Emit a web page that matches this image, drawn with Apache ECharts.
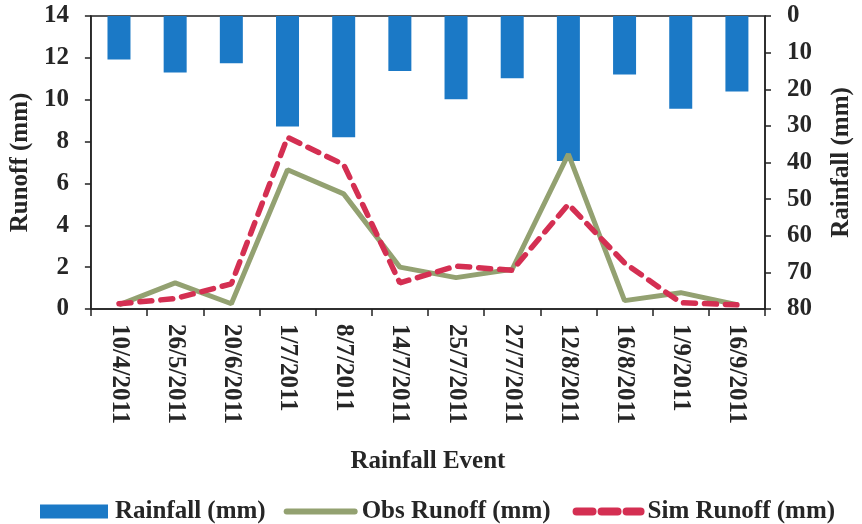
<!DOCTYPE html>
<html>
<head>
<meta charset="utf-8">
<script src="https://cdn.jsdelivr.net/npm/echarts@6/dist/echarts.min.js"></script>
<style>html,body{margin:0;padding:0;background:#fff;}#c{width:862px;height:524px;}</style>
</head>
<body>
<div id="c"></div>
<script>
var categories = ['10/4/2011','26/5/2011','20/6/2011','1/7/2011','8/7/2011','14/7/2011','25/7/2011','27/7/2011','12/8/2011','16/8/2011','1/9/2011','16/9/2011'];
var rainfall = [11.9, 15.4, 12.9, 30.2, 33.1, 15.0, 22.7, 17.0, 39.6, 16.0, 25.3, 20.6];
var obsRunoff = [0.2, 1.25, 0.25, 6.65, 5.5, 2.0, 1.5, 1.9, 7.4, 0.4, 0.78, 0.2];
var simRunoff = [0.25, 0.5, 1.2, 8.2, 6.9, 1.25, 2.05, 1.85, 5.0, 2.2, 0.3, 0.2];
var leftTicks = {min: 0, max: 14, interval: 2};
var rightTicks = {min: 0, max: 80, interval: 10};

var FONT = "'Liberation Serif', 'Times New Roman', serif";
var TXT = '#262626';
var OBS = '#93a171';
var SIM = '#d42f52';
var chart = echarts.init(document.getElementById('c'), null, {renderer: 'canvas'});
chart.setOption({
  animation: false,
  backgroundColor: '#fff',
  textStyle: {fontFamily: FONT, fontWeight: 'bold', color: TXT},
  grid: {left: 90, right: 88, top: 16, bottom: 215, show: true, borderColor: '#222', borderWidth: 1.5, backgroundColor: 'transparent'},
  legend: {
    left: 35, top: 494, itemWidth: 68, itemHeight: 14, itemGap: 18,
    textStyle: {fontFamily: FONT, fontWeight: 'bold', fontSize: 25, color: TXT, padding: [0,0,0,2]},
    data: [
      {name: 'Rainfall (mm)', icon: 'rect'},
      {name: 'Obs Runoff (mm)', itemStyle: {color: 'rgba(0,0,0,0)', borderColor: 'rgba(0,0,0,0)', borderWidth: 0},
        lineStyle: {color: OBS, width: 6, cap: 'round'}},
      {name: 'Sim Runoff (mm)', itemStyle: {color: 'rgba(0,0,0,0)', borderColor: 'rgba(0,0,0,0)', borderWidth: 0},
        lineStyle: {color: SIM, width: 8, type: [16, 9], dashOffset: -4, cap: 'round'}}
    ]
  },
  xAxis: {
    type: 'category', data: categories, boundaryGap: true,
    name: 'Rainfall Event', nameLocation: 'middle', nameGap: 140,
    nameTextStyle: {fontFamily: FONT, fontWeight: 'bold', fontSize: 25, color: TXT},
    axisLine: {lineStyle: {color: '#222', width: 1.5}},
    axisTick: {show: true, length: 7, lineStyle: {color: '#222', width: 1.5}},
    axisLabel: {rotate: -90, interval: 0, margin: 15, fontFamily: FONT, fontWeight: 'bold', fontSize: 25, color: TXT}
  },
  yAxis: [
    {
      type: 'value', position: 'left', min: leftTicks.min, max: leftTicks.max, interval: leftTicks.interval,
      name: 'Runoff (mm)', nameLocation: 'middle', nameGap: 55, nameRotate: 90,
      nameTextStyle: {fontFamily: FONT, fontWeight: 'bold', fontSize: 25, color: TXT},
      axisLine: {show: true, lineStyle: {color: '#222', width: 1.5}},
      axisTick: {show: true, length: 6, lineStyle: {color: '#222', width: 1.5}},
      axisLabel: {margin: 22, fontFamily: FONT, fontWeight: 'bold', fontSize: 25, color: TXT},
      splitLine: {show: false}
    },
    {
      type: 'value', position: 'right', inverse: true, min: rightTicks.min, max: rightTicks.max, interval: rightTicks.interval,
      name: 'Rainfall (mm)', nameLocation: 'middle', nameGap: 64, nameRotate: 90,
      nameTextStyle: {fontFamily: FONT, fontWeight: 'bold', fontSize: 25, color: TXT},
      axisLine: {show: true, lineStyle: {color: '#222', width: 1.5}},
      axisTick: {show: true, length: 6, lineStyle: {color: '#222', width: 1.5}},
      axisLabel: {margin: 22, fontFamily: FONT, fontWeight: 'bold', fontSize: 25, color: TXT},
      splitLine: {show: false}
    }
  ],
  series: [
    {
      name: 'Rainfall (mm)', type: 'bar', yAxisIndex: 1, data: rainfall, barWidth: 23,
      itemStyle: {color: '#1b79c6'}
    },
    {
      name: 'Obs Runoff (mm)', type: 'line', yAxisIndex: 0, data: obsRunoff, symbol: 'none',
      lineStyle: {color: OBS, width: 5}, itemStyle: {color: OBS}
    },
    {
      name: 'Sim Runoff (mm)', type: 'line', yAxisIndex: 0, data: simRunoff, symbol: 'none',
      lineStyle: {color: SIM, width: 5.5, type: [12, 9], cap: 'round'}, itemStyle: {color: SIM}
    }
  ]
});
</script>
</body>
</html>
